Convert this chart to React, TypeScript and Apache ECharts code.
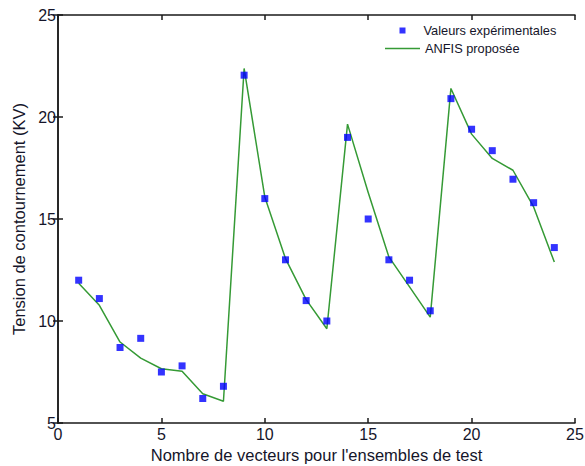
import React, { useEffect, useRef } from "react";
import * as echarts from "echarts";

const xValues = [1, 2, 3, 4, 5, 6, 7, 8, 9, 10, 11, 12, 13, 14, 15, 16, 17, 18, 19, 20, 21, 22, 23, 24];
const experimental = [12.0, 11.1, 8.7, 9.15, 7.5, 7.8, 6.2, 6.8, 22.05, 16.0, 13.0, 11.0, 10.0, 19.0, 15.0, 13.0, 12.0, 10.5, 20.9, 19.4, 18.35, 16.95, 15.8, 13.6];
const anfis = [11.85, 10.77, 8.97, 8.18, 7.66, 7.54, 6.43, 6.07, 22.38, 16.08, 13.06, 11.05, 9.62, 19.65, 16.3, 13.14, 11.67, 10.19, 21.4, 19.16, 17.97, 17.39, 15.59, 12.89];
const seriesNames = ["Valeurs expérimentales", "ANFIS proposée"];
const xTitle = "Nombre de vecteurs pour l'ensembles de test";
const yTitle = "Tension de contournement (KV)";

const FONT = "'Liberation Sans', Arial, Helvetica, sans-serif";
const AXIS_COLOR = "#1a1a1a";
const TEXT_COLOR = "#15152a";
const LINE_COLOR = "#359a35";

export default function App() {
  const ref = useRef<HTMLDivElement>(null);
  useEffect(() => {
    if (!ref.current) return;
    const chart = echarts.init(ref.current, undefined, { renderer: "svg" });
    const axisLine = { show: true, lineStyle: { color: AXIS_COLOR, width: 1.5 } };
    const tick = { show: true, inside: true, length: 5, lineStyle: { color: AXIS_COLOR, width: 1.5 } };
    const label = { color: TEXT_COLOR, fontFamily: FONT, fontSize: 16, lineHeight: 12 };
    chart.setOption({
      animation: false,
      backgroundColor: "#ffffff",
      grid: { left: 58, right: 10, top: 15, bottom: 43, containLabel: false, outerBoundsMode: "none" },
      legend: [
        {
          data: [{ name: seriesNames[0], icon: "rect" }],
          left: 399.5,
          top: 24,
          itemWidth: 6,
          itemHeight: 6,
          selectedMode: false,
          padding: 0,
          textStyle: { color: TEXT_COLOR, fontFamily: FONT, fontSize: 12.8, padding: [0, 0, 0, 13] },
        },
        {
          data: [{ name: seriesNames[1], icon: "rect", itemStyle: { color: LINE_COLOR } }],
          left: 385,
          top: 42,
          itemWidth: 35,
          itemHeight: 1.6,
          selectedMode: false,
          padding: 0,
          textStyle: { color: TEXT_COLOR, fontFamily: FONT, fontSize: 12.8, padding: [0, 0, 0, 0] },
        },
      ],
      xAxis: [
        {
          type: "value",
          min: 0,
          max: 25,
          interval: 5,
          position: "bottom",
          name: xTitle,
          nameLocation: "middle",
          nameGap: 22,
          nameTextStyle: { color: TEXT_COLOR, fontFamily: FONT, fontSize: 16.5 },
          axisLine,
          axisTick: tick,
          axisLabel: { ...label, margin: 5 },
          splitLine: { show: false },
        },
        {
          type: "value",
          min: 0,
          max: 25,
          interval: 5,
          position: "top",
          axisLine,
          axisTick: tick,
          axisLabel: { show: false },
          splitLine: { show: false },
        },
      ],
      yAxis: [
        {
          type: "value",
          min: 5,
          max: 25,
          interval: 5,
          position: "left",
          name: yTitle,
          nameLocation: "middle",
          nameGap: 30,
          nameTextStyle: { color: TEXT_COLOR, fontFamily: FONT, fontSize: 16.5 },
          axisLine,
          axisTick: tick,
          axisLabel: { ...label, margin: 2 },
          splitLine: { show: false },
        },
        {
          type: "value",
          min: 5,
          max: 25,
          interval: 5,
          position: "right",
          axisLine,
          axisTick: tick,
          axisLabel: { show: false },
          splitLine: { show: false },
        },
      ],
      series: [
        {
          name: seriesNames[1],
          type: "line",
          data: xValues.map((x, i) => [x, anfis[i]]),
          symbol: "none",
          lineStyle: { color: LINE_COLOR, width: 1.5 },
          itemStyle: { color: LINE_COLOR },
          z: 2,
        },
        {
          name: seriesNames[0],
          type: "scatter",
          data: xValues.map((x, i) => [x, experimental[i]]),
          symbol: "rect",
          symbolSize: 7,
          itemStyle: { color: "#0000ff" },
          z: 3,
        },
      ],
    });
    return () => chart.dispose();
  }, []);
  return <div ref={ref} style={{ position: "fixed", left: 0, top: 0, width: 585, height: 466 }} />;
}
